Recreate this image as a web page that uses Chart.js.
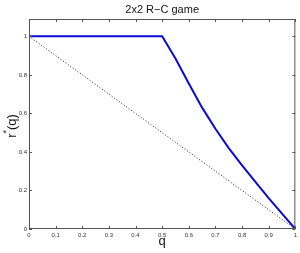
<!DOCTYPE html>
<html>
<head>
<meta charset="utf-8">
<script src="https://cdn.jsdelivr.net/npm/chart.js@4/dist/chart.umd.min.js"></script>
<style>
  html, body { margin: 0; padding: 0; background: #fff; }
  #wrap { width: 300px; height: 253px; }
</style>
</head>
<body>
<div id="wrap"><canvas id="c"></canvas></div>
<script>
// data
const Q = [0, 0.1, 0.2, 0.3, 0.4, 0.5, 0.55, 0.6, 0.65, 0.7, 0.75, 0.8, 0.85, 0.9, 0.95, 1.0];
const R_STAR = [1, 1, 1, 1, 1, 1, 0.885, 0.755, 0.63, 0.52, 0.42, 0.33, 0.245, 0.16, 0.08, 0];
const DIAG_Q = [0, 1];
const DIAG_R = [1, 0];
const X_TICKS = [0, 0.1, 0.2, 0.3, 0.4, 0.5, 0.6, 0.7, 0.8, 0.9, 1];
const Y_TICKS = [0, 0.2, 0.4, 0.6, 0.8, 1];
const TITLE = '2x2 R\u2212C game';

const AXIS = '#555';
const FONT = 'Liberation Sans, Arial, sans-serif';

// MATLAB-style box: inward ticks on all four sides, labels drawn as text
const matlabAxes = {
  id: 'matlabAxes',
  afterDraw(chart) {
    const { ctx, chartArea: a, scales: { x, y } } = chart;
    ctx.save();
    ctx.strokeStyle = AXIS;
    ctx.lineWidth = 1;
    ctx.strokeRect(a.left + 0.5, a.top + 0.5, a.right - a.left - 1, a.bottom - a.top - 1);
    ctx.beginPath();
    X_TICKS.forEach((v) => {
      const px = Math.round(x.getPixelForValue(v)) + 0.5;
      ctx.moveTo(px, a.bottom); ctx.lineTo(px, a.bottom - 3);
      ctx.moveTo(px, a.top); ctx.lineTo(px, a.top + 3);
    });
    Y_TICKS.forEach((v) => {
      const py = Math.round(y.getPixelForValue(v)) + 0.5;
      ctx.moveTo(a.left, py); ctx.lineTo(a.left + 3, py);
      ctx.moveTo(a.right, py); ctx.lineTo(a.right - 3, py);
    });
    ctx.stroke();

    ctx.fillStyle = '#111';
    ctx.textAlign = 'center';
    ctx.textBaseline = 'middle';
    ctx.font = '11px ' + FONT;
    ctx.fillText(TITLE, (a.left + a.right) / 2, 10);
    ctx.font = '13px ' + FONT;
    ctx.fillText('q', (a.left + a.right) / 2, 241);

    // y label r*(q), rotated, with raised star
    ctx.translate(12, (a.top + a.bottom) / 2 + 2);
    ctx.rotate(-Math.PI / 2);
    ctx.textAlign = 'left';
    ctx.font = '13px ' + FONT;
    const w1 = ctx.measureText('r').width;
    ctx.font = '9px ' + FONT;
    const w2 = ctx.measureText('*').width;
    ctx.font = '13px ' + FONT;
    const w3 = ctx.measureText('(q)').width;
    const sx = -(w1 + w2 + w3) / 2;
    ctx.fillText('r', sx, 0);
    ctx.font = '9px ' + FONT;
    ctx.fillText('*', sx + w1, -5);
    ctx.font = '13px ' + FONT;
    ctx.fillText('(q)', sx + w1 + w2, 0);
    ctx.restore();
  },
};

new Chart(document.getElementById('c'), {
  type: 'line',
  data: {
    datasets: [
      {
        data: DIAG_Q.map((q, i) => ({ x: q, y: DIAG_R[i] })),
        borderColor: '#222', borderWidth: 1, borderDash: [1, 2],
        pointRadius: 0, fill: false, tension: 0,
      },
      {
        data: Q.map((q, i) => ({ x: q, y: R_STAR[i] })),
        borderColor: '#0a0ad8', borderWidth: 2,
        pointRadius: 0, fill: false, tension: 0,
      },
    ],
  },
  options: {
    responsive: true, maintainAspectRatio: false, animation: false,
    layout: { padding: { top: 19, right: 4, left: 0, bottom: 0 } },
    plugins: { legend: { display: false }, tooltip: { enabled: false }, title: { display: false } },
    scales: {
      x: {
        type: 'linear', min: 0, max: 1,
        grid: { drawOnChartArea: false, drawTicks: false },
        border: { display: false },
        ticks: { stepSize: 0.1, padding: 3, color: '#333', font: { size: 6, family: FONT }, maxRotation: 0,
          callback: (v) => (Math.round(v * 10) / 10).toString() },
        afterFit: (s) => { s.height = 24; },
      },
      y: {
        type: 'linear', min: 0, max: 1.09,
        grid: { drawOnChartArea: false, drawTicks: false },
        border: { display: false },
        afterBuildTicks: (s) => { s.ticks = Y_TICKS.map((v) => ({ value: v })); },
        ticks: { padding: 2, color: '#333', font: { size: 6, family: FONT },
          callback: (v) => (Math.round(v * 10) / 10).toString() },
        afterFit: (s) => { s.width = 29; },
      },
    },
  },
  plugins: [matlabAxes],
});
</script>
</body>
</html>
